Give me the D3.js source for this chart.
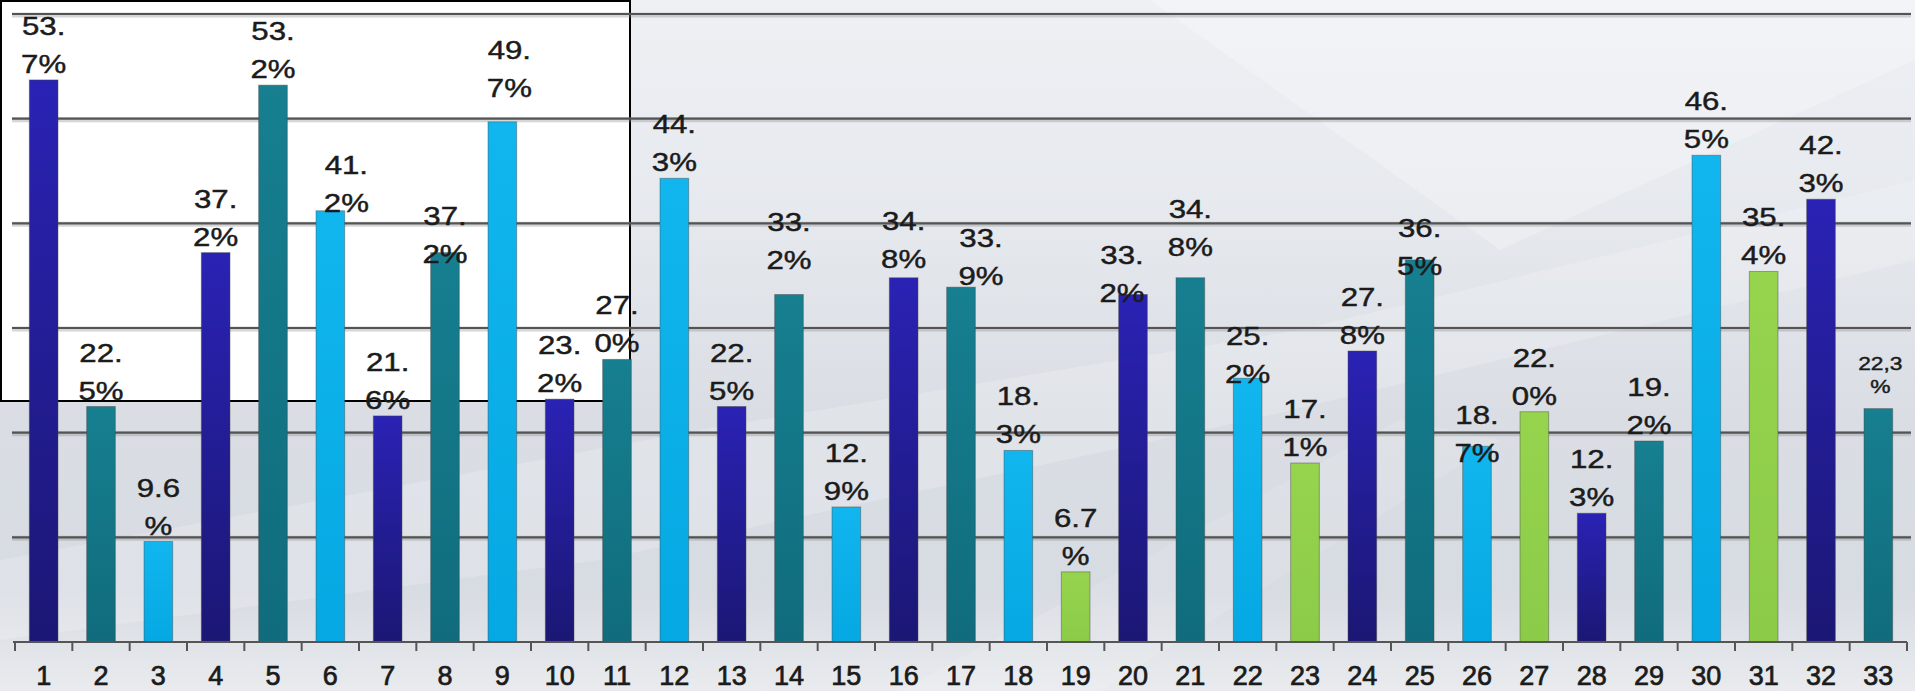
<!DOCTYPE html>
<html>
<head>
<meta charset="utf-8">
<script src="https://cdn.jsdelivr.net/npm/d3@7/dist/d3.min.js"></script>
<style>
  html, body { margin: 0; padding: 0; overflow: hidden; background: #e4e7ec; }
  svg { display: block; }
  text { font-family: "Liberation Sans", Arial, sans-serif; fill: #1b1b1b; stroke: #1b1b1b; stroke-width: 0.45px; }
</style>
</head>
<body>
<div id="chart"></div>
<script>
// Data
const categories = ["1","2","3","4","5","6","7","8","9","10","11","12","13","14","15","16","17",
  "18","19","20","21","22","23","24","25","26","27","28","29","30","31","32","33"];
const values = [53.7, 22.5, 9.6, 37.2, 53.2, 41.2, 21.6, 37.2, 49.7, 23.2, 27.0, 44.3, 22.5, 33.2,
  12.9, 34.8, 33.9, 18.3, 6.7, 33.2, 34.8, 25.2, 17.1, 27.8, 36.5, 18.7, 22.0, 12.3, 19.2, 46.5,
  35.4, 42.3, 22.3];
const valueLabels = ["53.7%","22.5%","9.6%","37.2%","53.2%","41.2%","21.6%","37.2%","49.7%","23.2%",
  "27.0%","44.3%","22.5%","33.2%","12.9%","34.8%","33.9%","18.3%","6.7%","33.2%","34.8%","25.2%",
  "17.1%","27.8%","36.5%","18.7%","22.0%","12.3%","19.2%","46.5%","35.4%","42.3%","22,3%"];
const colorGroups = ["dark","teal","light","dark","teal","light","dark","teal","light","dark","teal",
  "light","dark","teal","light","dark","teal","light","green","dark","teal","light","green","dark",
  "teal","light","green","dark","teal","light","green","dark","teal"];
const gridTicks = [10, 20, 30, 40, 50, 60];

// label placement tweaks taken from the original slide (dx, dy in px)
const labelNudge = {
  "6": [16, 8], "8": [0, 17], "9": [7, -18], "14": [0, -19], "16": [0, -3], "17": [20, 5],
  "20": [-11, 14], "21": [0, -15], "22": [0, 12], "25": [0, 22], "26": [0, 23], "33": [2, -9]
};
const smallLabels = new Set(["33"]);

const palette = {
  dark:  ["#2a22b4", "#1b1774"],
  teal:  ["#167f90", "#106c7c"],
  light: ["#12b6ee", "#05a8e2"],
  green: ["#96d44e", "#8ccb48"]
};

const width = 1915;
const height = 691;

const svg = d3.select("#chart").append("svg")
  .attr("width", width)
  .attr("height", height);

const defs = svg.append("defs");

// background
const bg = defs.append("linearGradient").attr("id", "bg")
  .attr("x1", 0).attr("y1", 0).attr("x2", 0).attr("y2", 1);
[[0, "#eef0f4"], [0.3, "#e6e9ee"], [0.6, "#dadee4"], [0.85, "#d7dbe2"], [0.93, "#e0e3e8"], [1, "#e9ebee"]]
  .forEach(([o, c]) => bg.append("stop").attr("offset", o).attr("stop-color", c));

Object.entries(palette).forEach(([key, [c1, c2]]) => {
  const g = defs.append("linearGradient").attr("id", `bar-${key}`)
    .attr("x1", 0).attr("y1", 0).attr("x2", 0).attr("y2", 1);
  g.append("stop").attr("offset", 0).attr("stop-color", c1);
  g.append("stop").attr("offset", 1).attr("stop-color", c2);
});

svg.append("rect").attr("width", width).attr("height", height).attr("fill", "url(#bg)");

// soft diagonal highlights of the slide template
const streaks = [
  [[1150, 0], [1915, 0], [1915, 60], [1500, 250]],
  [[0, 560], [700, 430], [1300, 330], [1915, 180], [1915, 260], [1250, 420], [600, 560], [0, 640]],
  [[900, 691], [1400, 420], [1500, 440], [1100, 691]]
];
svg.append("g").selectAll("path").data(streaks).enter().append("path")
  .attr("d", (d) => d3.line()(d) + "Z")
  .attr("fill", "#ffffff")
  .attr("opacity", (d, i) => [0.25, 0.18, 0.12][i]);

// white box pasted over the upper left corner
svg.append("rect")
  .attr("x", 1).attr("y", 1).attr("width", 629).attr("height", 400)
  .attr("fill", "#ffffff").attr("stroke", "#000").attr("stroke-width", 2);

// Scales
const x = d3.scaleBand().domain(categories).range([15, 1907]).paddingInner(0.5).paddingOuter(0.25);
const y = d3.scaleLinear().domain([0, 60]).range([642, 14]);

// gridlines
const grid = svg.append("g");
grid.selectAll("line.shadow").data(gridTicks).enter().append("line")
  .attr("class", "shadow")
  .attr("x1", 12).attr("x2", 1911)
  .attr("y1", (d) => y(d) + 1).attr("y2", (d) => y(d) + 1)
  .attr("stroke", "#8c8c8c").attr("stroke-width", 5).attr("opacity", 0.35);
grid.selectAll("line.main").data(gridTicks).enter().append("line")
  .attr("class", "main")
  .attr("x1", 12).attr("x2", 1911)
  .attr("y1", (d) => y(d)).attr("y2", (d) => y(d))
  .attr("stroke", "#545454").attr("stroke-width", 2.2);

// bars
svg.append("g").selectAll("rect").data(categories).enter().append("rect")
  .attr("x", (d) => x(d))
  .attr("y", (d, i) => y(values[i]))
  .attr("width", x.bandwidth())
  .attr("height", (d, i) => y(0) - y(values[i]))
  .attr("fill", (d, i) => `url(#bar-${colorGroups[i]})`)
  .attr("stroke", "rgba(70,70,70,0.45)")
  .attr("stroke-width", 1);

// x axis
const axis = svg.append("g").attr("transform", `translate(0,${y(0)})`);
axis.append("line").attr("x1", 13).attr("x2", 1907).attr("y1", 0).attr("y2", 0)
  .attr("stroke", "#555").attr("stroke-width", 2);
const step = x.step();
const tickEdges = categories.map((d) => x(d) - (step - x.bandwidth()) / 2).concat([1907]);
axis.selectAll("line.tick").data(tickEdges).enter().append("line")
  .attr("class", "tick")
  .attr("x1", (d) => d).attr("x2", (d) => d)
  .attr("y1", 0).attr("y2", 9)
  .attr("stroke", "#555").attr("stroke-width", 2);
axis.selectAll("text").data(categories).enter().append("text")
  .attr("x", (d) => x(d) + x.bandwidth() / 2)
  .attr("y", 43)
  .attr("text-anchor", "middle")
  .style("font-size", "27px")
  .style("stroke-width", "0.7px")
  .text((d) => d);

// value labels, wrapped like the narrow PowerPoint label boxes
const labels = svg.append("g").selectAll("g").data(categories).enter().append("g")
  .attr("transform", (d, i) => {
    const [dx, dy] = labelNudge[d] || [0, 0];
    const cx = x(d) + x.bandwidth() / 2 + dx;
    const base = y(values[i]) - 7 + dy;
    return `translate(${cx},${base}) scale(1.2,1)`;
  });

labels.each(function (d, i) {
  const small = smallLabels.has(d);
  const cut = small ? 4 : 3;
  const txt = valueLabels[i];
  const lines = [txt.slice(0, cut), txt.slice(cut)];
  const lh = small ? 23 : 38;
  d3.select(this).selectAll("text").data(lines).enter().append("text")
    .attr("x", 0)
    .attr("y", (l, k) => (k - 1) * lh)
    .attr("text-anchor", "middle")
    .style("font-size", small ? "19px" : "26px")
    .text((l) => l);
});
</script>
</body>
</html>
